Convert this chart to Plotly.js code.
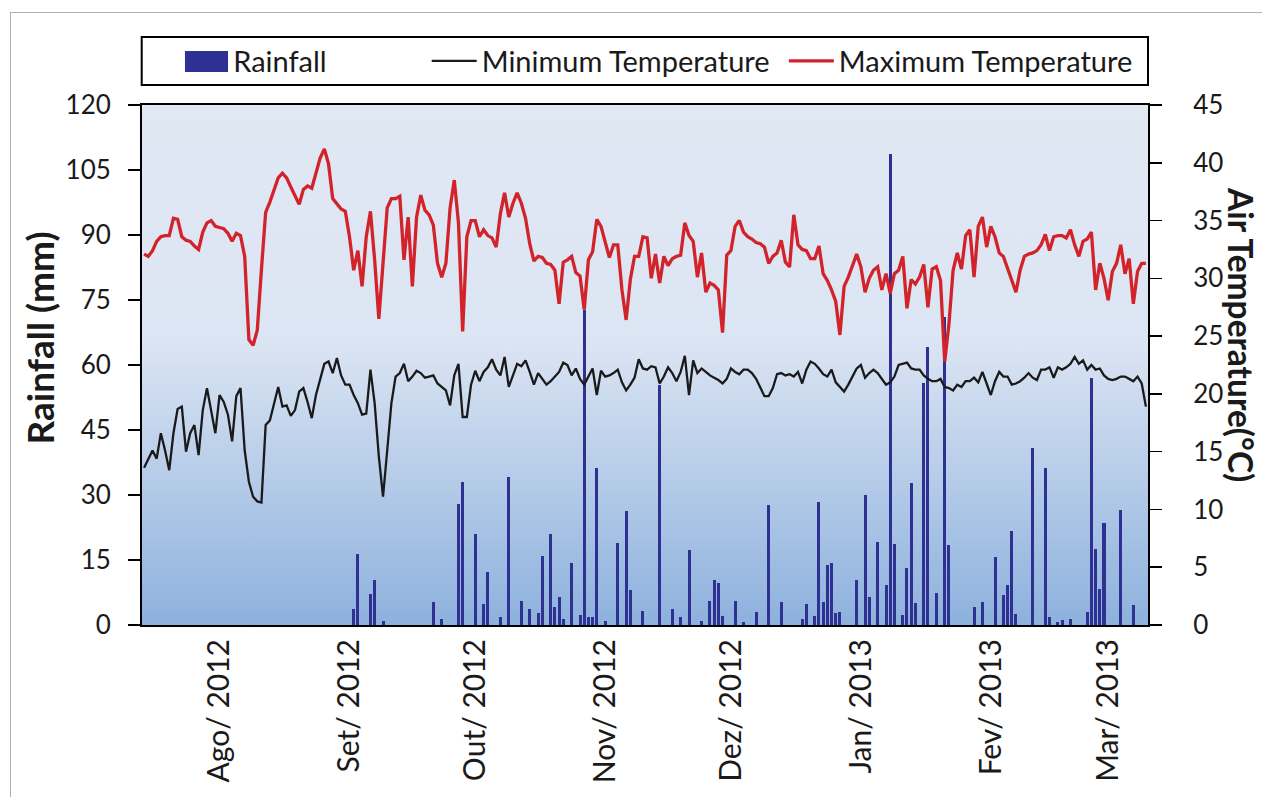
<!DOCTYPE html>
<html>
<head>
<meta charset="utf-8">
<script src="https://cdn.plot.ly/plotly-3.0.1.min.js"></script>
<style>
html,body{margin:0;padding:0;background:#ffffff;overflow:hidden;}
#frame{position:absolute;left:10px;top:12px;width:1400px;height:900px;border:1.5px solid #b0b0b0;box-sizing:border-box;}
#chart{position:absolute;left:0;top:0;width:1262px;height:797px;}
</style>
</head>
<body>
<div id="frame"></div>
<div id="chart"></div>
<script>
// ---- Data (daily, first day 2012-07-14) ----
const firstDay = [2012, 6, 14];

const monthTicks = ['2012-08-01','2012-09-01','2012-10-01','2012-11-01','2012-12-01','2013-01-01','2013-02-01','2013-03-01'];
const monthLabels = ['Ago/ 2012','Set/ 2012','Out/ 2012','Nov/ 2012','Dez/ 2012','Jan/ 2013','Fev/ 2013','Mar/ 2013'];

const rainfall = [
  0,0,0,0,0,0,0,0,0,0,
  0,0,0,0,0,0,0,0,0,0,
  0,0,0,0,0,0,0,0,0,0,
  0,0,0,0,0,0,0,0,0,0,
  0,0,0,0,0,0,0,0,0,0,
  3.8,16.4,0,0,7.2,10.4,0,1.0,0,0,
  0,0,0,0,0,0,0,0,0,5.2,
  0,1.5,0,0,0,27.9,32.9,0,0,20.9,
  0,4.8,12.3,0,0,1.8,0,34.2,0,0,
  5.6,0,3.7,0,2.7,15.9,0,20.9,4.1,6.5,
  1.5,0,14.2,0,2.3,72.7,1.8,1.9,36.3,0,
  1.0,0,0,19.0,0,26.3,8.1,0,0,3.3,
  0,0,0,55.4,0,0,3.8,0,1.8,0,
  17.2,0,0,1.0,0,5.6,10.5,9.8,2.1,0,
  0,5.6,0,0.8,0,0,3.1,0,0,27.7,
  0,0,5.2,0,0,0,0,1.3,4.8,0,
  2.1,28.5,5.2,13.8,14.2,2.7,3.1,0,0,0,
  10.4,0,30.0,6.5,0,19.2,0,9.2,108.8,18.8,
  0,2.3,13.1,32.7,5.0,0,55.8,64.1,0,7.3,
  0,71.0,18.5,0,0,0,0,0,4.2,0,
  5.2,0,0,15.6,0,6.9,9.2,21.8,2.5,0,
  0,0,40.8,0,0,36.2,1.8,0,0.8,1.2,
  0,1.3,0,0,0,3.1,56.9,17.5,8.2,23.6,
  0,0,0,26.5,0,0,4.6,0,0,0
];

const minTemp = [
  13.6,14.4,15.1,14.4,16.6,15.1,13.4,16.6,18.7,18.9,
  15.0,16.6,17.3,14.7,18.6,20.5,18.6,16.6,19.9,19.3,
  18.2,15.9,19.8,20.5,15.1,12.4,11.1,10.7,10.6,17.3,
  17.7,19.2,20.6,18.9,19.0,18.1,18.6,20.2,20.5,19.3,
  17.9,19.9,21.3,22.6,22.8,21.8,23.1,21.6,20.8,20.8,
  19.9,19.2,18.2,18.3,22.1,19.2,14.6,11.1,15.1,19.2,
  21.5,21.8,22.6,21.1,21.5,22.0,21.8,21.4,21.5,21.6,
  20.9,20.6,20.3,19.0,21.6,22.6,18.0,18.0,20.8,22.0,
  21.1,21.9,22.3,23.0,22.1,21.6,23.2,20.6,21.6,22.6,
  22.4,22.9,21.9,20.8,21.8,21.3,20.8,21.1,21.5,21.9,
  22.7,22.5,21.6,22.2,21.3,20.8,21.5,22.2,19.9,22.0,
  21.5,21.6,21.8,22.1,21.0,20.3,20.8,21.4,23.0,22.2,
  22.1,22.4,22.3,20.9,21.5,22.3,21.8,21.1,21.9,23.3,
  19.9,22.9,21.8,22.2,21.9,21.6,21.4,21.2,20.9,21.3,
  22.2,21.9,21.7,22.1,22.1,21.8,21.3,20.6,19.8,19.8,
  20.5,21.7,21.8,21.6,21.7,21.5,21.9,20.9,22.1,22.8,
  22.6,22.2,21.7,21.5,22.1,21.0,20.6,20.2,20.8,21.5,
  22.2,22.5,21.4,21.8,22.1,21.8,21.3,20.8,21.0,21.5,
  22.5,22.6,22.7,22.2,22.1,22.1,21.6,21.3,21.1,21.1,
  21.3,20.6,20.5,20.3,20.8,20.6,21.1,21.1,21.4,21.0,
  21.9,20.9,19.9,21.1,21.9,21.5,21.5,20.8,20.9,21.1,
  21.4,21.8,21.4,21.2,22.1,22.1,22.3,21.4,22.3,22.1,
  22.3,22.6,23.2,22.6,22.9,22.1,22.5,22.1,22.2,21.6,
  21.3,21.2,21.3,21.5,21.5,21.3,21.1,21.5,20.9,18.9
];

const maxTemp = [
  32.1,31.9,32.4,33.2,33.6,33.7,33.7,35.2,35.1,33.6,
  33.3,33.2,32.8,32.5,34.0,34.8,35.0,34.5,34.4,34.3,
  33.9,33.2,33.9,33.7,31.9,24.7,24.2,25.5,30.8,35.7,
  36.6,37.6,38.7,39.1,38.7,37.9,37.1,36.4,37.7,38.0,
  37.8,39.2,40.4,41.2,39.9,36.9,36.5,36.0,35.8,33.6,
  30.7,32.4,29.3,33.6,35.8,31.6,26.5,31.6,36.1,36.9,
  36.9,37.1,31.6,35.3,29.3,35.3,37.2,35.9,35.5,34.6,
  31.3,30.1,31.3,36.1,38.5,34.8,25.4,33.6,35.0,35.0,
  33.6,34.2,33.7,33.5,32.7,35.6,37.4,35.3,36.5,37.4,
  36.5,35.2,33.0,31.5,31.9,31.8,31.3,31.2,30.7,27.8,
  31.4,31.6,31.9,30.5,30.2,27.3,31.6,32.3,35.1,34.5,
  33.2,31.8,32.9,32.9,29.0,26.4,29.9,31.9,31.9,33.6,
  33.5,30.0,32.1,29.6,31.9,31.1,31.7,31.9,32.0,34.8,
  33.7,33.2,30.1,32.2,28.8,29.6,29.4,29.0,25.3,32.0,
  32.4,34.5,35.0,34.0,33.6,33.4,33.1,33.0,32.7,31.3,
  31.9,32.2,33.3,31.4,31.0,35.5,32.9,32.5,32.4,31.7,
  31.7,32.8,30.4,29.8,29.0,28.0,25.1,29.3,30.1,31.2,
  32.1,31.0,28.8,30.0,30.7,31.0,29.0,30.4,28.7,30.4,
  30.7,31.9,27.4,29.9,29.5,30.1,31.2,27.5,30.8,31.0,
  29.8,22.8,26.0,30.7,32.2,30.8,33.7,34.2,30.1,34.5,
  35.3,32.7,34.5,33.6,32.2,31.9,30.9,30.0,28.8,30.7,
  31.9,32.1,32.2,32.4,32.9,33.8,32.4,33.6,33.7,33.7,
  33.5,34.2,32.9,31.9,33.2,33.4,34.0,29.0,31.3,30.0,
  28.1,30.6,31.3,32.9,30.4,31.7,27.8,30.6,31.3,31.3
];

// daily date categories
const dates = maxTemp.map((_, i) => new Date(Date.UTC(firstDay[0], firstDay[1], firstDay[2] + i)).toISOString().slice(0, 10));

const FONT = 'Lato, "Open Sans", sans-serif';
const TXT = '#1a1a1a';
const RAIN_COLOR = '#2e3192';

const gradSvg = '<svg xmlns="http://www.w3.org/2000/svg" width="100" height="100" viewBox="0 0 100 100" preserveAspectRatio="none">' +
  '<defs><linearGradient id="g" x1="0" y1="0" x2="0" y2="1">' +
  '<stop offset="0" stop-color="#e1e8f4"/><stop offset="0.45" stop-color="#dce5f3"/><stop offset="1" stop-color="#8db1dd"/>' +
  '</linearGradient></defs><rect x="0" y="0" width="100" height="100" fill="url(#g)"/></svg>';

const traces = [
  {
    type: 'bar', name: 'Rainfall', x: dates, y: rainfall, yaxis: 'y',
    marker: {color: RAIN_COLOR, line: {width: 0}}, width: 0.72 * 86400000,
    legend: 'legend'
  },
  {
    type: 'scatter', mode: 'lines', name: 'Minimum Temperature', x: dates, y: minTemp, yaxis: 'y2',
    line: {color: '#1a1a1a', width: 2.3}, legend: 'legend2'
  },
  {
    type: 'scatter', mode: 'lines', name: 'Maximum Temperature', x: dates, y: maxTemp, yaxis: 'y2',
    line: {color: '#d2232a', width: 3.3}, legend: 'legend3'
  }
];

const legendBase = {
  orientation: 'h', yanchor: 'middle', xanchor: 'left', y: 1.0846,
  bgcolor: 'rgba(0,0,0,0)', borderwidth: 0, itemwidth: 45,
  font: {family: FONT, size: 29, color: TXT}
};

const layout = {
  width: 1262, height: 797,
  margin: {l: 142, r: 114, t: 105, b: 172, pad: 0},
  paper_bgcolor: 'rgba(0,0,0,0)',
  plot_bgcolor: 'rgba(0,0,0,0)',
  bargap: 0,
  showlegend: true,
  legend: Object.assign({}, legendBase, {x: 0.036}),
  legend2: Object.assign({}, legendBase, {x: 0.283}),
  legend3: Object.assign({}, legendBase, {x: 0.638}),
  xaxis: {
    type: 'date', range: ['2012-07-13 12:00', '2013-03-10 12:00'],
    tickmode: 'array', tickvals: monthTicks, ticktext: monthLabels, tickangle: -90,
    ticks: '', showgrid: false, zeroline: false,
    showline: true, linecolor: '#000', linewidth: 2, mirror: true,
    tickfont: {family: FONT, size: 30, color: TXT}
  },
  yaxis: {
    range: [0, 120], tick0: 0, dtick: 15,
    ticks: 'outside', ticklen: 12, tickwidth: 1.5, tickcolor: '#000', ticklabelstandoff: 12,
    showgrid: false, zeroline: false,
    showline: true, linecolor: '#000', linewidth: 2, mirror: true,
    tickfont: {family: FONT, size: 26, color: TXT}
  },
  yaxis2: {
    overlaying: 'y', side: 'right', range: [0, 45], tick0: 0, dtick: 5,
    ticks: 'outside', ticklen: 12, tickwidth: 1.5, tickcolor: '#000', ticklabelstandoff: 26,
    showgrid: false, zeroline: false,
    showline: true, linecolor: '#000', linewidth: 2,
    tickfont: {family: FONT, size: 26, color: TXT}
  },
  images: [{
    source: 'data:image/svg+xml;base64,' + btoa(gradSvg),
    xref: 'paper', yref: 'paper', x: 0, y: 1, sizex: 1, sizey: 1,
    xanchor: 'left', yanchor: 'top', sizing: 'stretch', layer: 'below'
  }],
  shapes: [
    { // legend frame
      type: 'rect', xref: 'paper', yref: 'paper',
      x0: -0.0003, x1: 1.0, y0: 1.0385, y1: 1.1308,
      line: {color: '#000', width: 2}, fillcolor: 'rgba(0,0,0,0)'
    },
    { // larger Rainfall legend swatch
      type: 'rect', xref: 'paper', yref: 'paper',
      x0: 0.0427, x1: 0.0855, y0: 1.0635, y1: 1.1038,
      line: {width: 0}, fillcolor: RAIN_COLOR
    }
  ],
  annotations: [
    {
      text: 'Rainfall (mm)', xref: 'paper', yref: 'paper', x: -0.1014, y: 0.5529,
      xanchor: 'center', yanchor: 'middle', textangle: -90, showarrow: false,
      font: {family: FONT, size: 37, color: TXT, weight: 700}
    },
    {
      text: 'Air Temperature(°C)', xref: 'paper', yref: 'paper', x: 1.0925, y: 0.5596,
      xanchor: 'center', yanchor: 'middle', textangle: 90, showarrow: false,
      font: {family: FONT, size: 33.5, color: TXT, weight: 700}
    }
  ]
};

Plotly.newPlot('chart', traces, layout, {displayModeBar: false, staticPlot: true});
</script>
</body>
</html>
